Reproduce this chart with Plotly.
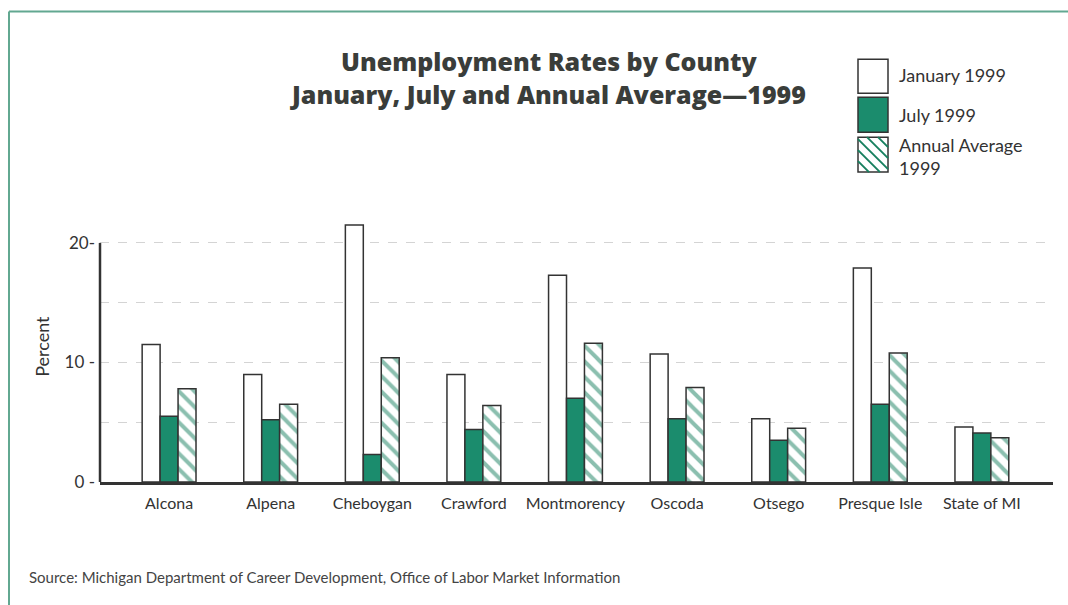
import plotly.graph_objects as go

# Unemployment rates (%) by county, 1999
counties = ["Alcona", "Alpena", "Cheboygan", "Crawford", "Montmorency",
            "Oscoda", "Otsego", "Presque Isle", "State of MI"]
january = [11.5, 9.0, 21.5, 9.0, 17.3, 10.7, 5.3, 17.9, 4.6]
july = [5.5, 5.2, 2.3, 4.4, 7.0, 5.3, 3.5, 6.5, 4.1]
annual = [7.8, 6.5, 10.4, 6.4, 11.6, 7.9, 4.5, 10.8, 3.7]

y_ticks = [0, 5, 10, 15, 20]
y_tick_text = ["0 -", "", "10 -", "", "20-"]

TEAL = "#1b8c6d"
HATCH = "#17805f"
INK = "#333333"
FRAME = "#62a891"
FONT = "Lato"
TITLE_FONT = "Open Sans"

W, H = 1068, 605
L, R, T, B = 100, 15, 219, 122.5
PW, PH = W - L - R, H - T - B


def px(x):
    return (x - L) / PW


def py(y):
    return (H - B - y) / PH


fig = go.Figure()
outline = dict(color=INK, width=1.5)
fig.add_trace(go.Bar(x=counties, y=january, name="January 1999",
                     marker=dict(color="white", line=outline)))
fig.add_trace(go.Bar(x=counties, y=july, name="July 1999",
                     marker=dict(color=TEAL, line=outline)))
fig.add_trace(go.Bar(x=counties, y=annual, name="Annual Average 1999",
                     marker=dict(color="white", line=outline,
                                 pattern=dict(shape="\\", fgcolor=HATCH,
                                              bgcolor="white", size=11,
                                              solidity=0.36))))

shapes = [
    # y axis line stops at the 20% tick
    dict(type="line", xref="paper", yref="y", x0=0, x1=0, y0=0, y1=20,
         line=dict(color=INK, width=2.5), layer="above"),
    # frame: top and left edges
    dict(type="line", xref="paper", yref="paper", x0=px(9), x1=px(W + 5),
         y0=py(11), y1=py(11), line=dict(color=FRAME, width=2)),
    dict(type="line", xref="paper", yref="paper", x0=px(9), x1=px(9),
         y0=py(11), y1=py(H + 5), line=dict(color=FRAME, width=2)),
]

# legend swatches
bx0, bx1 = 858, 888
boxes = [(59, 93), (97, 132), (137, 172)]
fills = ["white", TEAL, "white"]
for (t, b), f in zip(boxes, fills):
    shapes.append(dict(type="rect", xref="paper", yref="paper",
                       x0=px(bx0), x1=px(bx1), y0=py(b), y1=py(t),
                       fillcolor=f, line=dict(color=INK, width=1.5)))

# diagonal hatching for the annual-average swatch
t, b = boxes[2]
step = 11
for k in range(-4, 8):
    # line x - x0 = (y - t) + c, running from upper-left to lower-right
    c = k * step - (b - t)
    ya, yb = t, b
    xa, xb = bx0 + (ya - t) + c, bx0 + (yb - t) + c
    if xa < bx0:
        ya += bx0 - xa
        xa = bx0
    if xb > bx1:
        yb -= xb - bx1
        xb = bx1
    if ya >= yb or xa >= bx1 or xb <= bx0:
        continue
    shapes.append(dict(type="line", xref="paper", yref="paper",
                       x0=px(xa), x1=px(xb), y0=py(ya), y1=py(yb),
                       line=dict(color=HATCH, width=2)))

title_font = dict(family=TITLE_FONT, size=25, color="#3a3d3a", weight=800)
annotations = [
    dict(text="Unemployment Rates by County<br>"
              "January, July and Annual Average\u20141999",
         xref="paper", yref="paper", x=px(548), y=py(77),
         xanchor="center", yanchor="middle", showarrow=False,
         font=title_font),
    dict(text="Percent", xref="paper", yref="paper", x=px(42), y=py(347),
         textangle=-90, xanchor="center", yanchor="middle", showarrow=False,
         font=dict(family=FONT, size=18, color=INK)),
    dict(text="Source: Michigan Department of Career Development, "
              "Office of Labor Market Information",
         xref="paper", yref="paper", x=px(27), y=py(578),
         xanchor="left", yanchor="middle", showarrow=False,
         font=dict(family=FONT, size=15, color="#444444")),
]
legend_text = [("January 1999", 75), ("July 1999", 115),
               ("Annual Average<br>1999", 156)]
for txt, yc in legend_text:
    annotations.append(dict(text=txt, xref="paper", yref="paper",
                            x=px(897), y=py(yc), xanchor="left",
                            yanchor="middle", align="left", showarrow=False,
                            font=dict(family=FONT, size=18, color=INK)))

fig.update_layout(
    width=W, height=H,
    margin=dict(l=L, r=R, t=T, b=B),
    paper_bgcolor="white", plot_bgcolor="white",
    barmode="group", bargap=0.47, bargroupgap=0,
    showlegend=False,
    font=dict(family=FONT, color=INK),
    shapes=shapes, annotations=annotations,
    xaxis=dict(range=[-0.68, 8.7], showline=True, linecolor=INK,
               linewidth=2.5, ticks="", showgrid=False,
               tickfont=dict(family=FONT, size=16, color=INK),
               ticklabelstandoff=5),
    yaxis=dict(range=[0, 22], tickvals=y_ticks, ticktext=y_tick_text,
               showline=False, showgrid=True, gridcolor="#d4d4d4",
               griddash="dash", gridwidth=1, zeroline=False, ticks="",
               tickfont=dict(family=FONT, size=17, color=INK),
               ticklabelstandoff=4),
)

fig.write_html("out.html")
